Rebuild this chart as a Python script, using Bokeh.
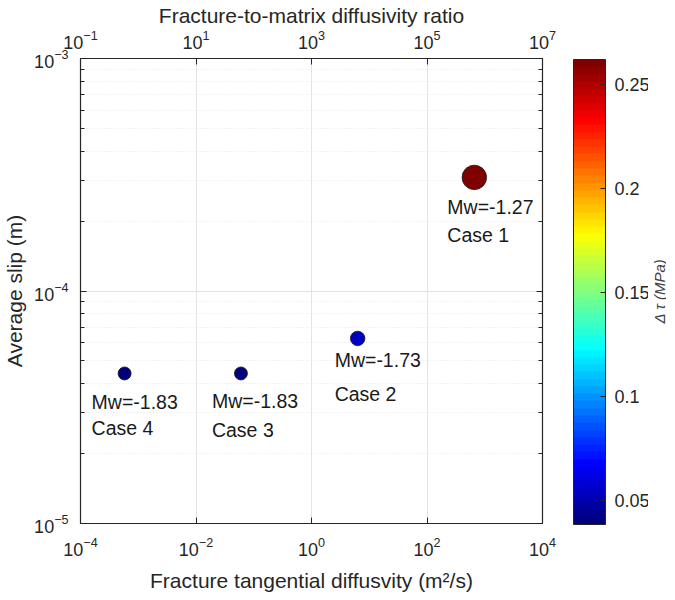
import numpy as np
from bokeh.plotting import figure
from bokeh.layouts import row
from bokeh.models import (LogAxis, Range1d, LogScale, FixedTicker, ColumnDataSource,
                          LinearColorMapper, ColorBar)
from bokeh.core.properties import value
from bokeh.embed import file_html
from bokeh.resources import INLINE

# ---------------- data ----------------
cases = ["Case 1", "Case 2", "Case 3", "Case 4"]
mw_labels = ["Mw=-1.27", "Mw=-1.73", "Mw=-1.83", "Mw=-1.83"]
diffusivity = [660.0, 6.3, 0.06, 5.8e-4]          # m^2/s
avg_slip = [3.08e-4, 6.25e-5, 4.42e-5, 4.42e-5]   # m
delta_tau = [0.262, 0.055, 0.0385, 0.0385]        # MPa
marker_size = [24.5, 14.5, 13, 13]

x_ticks = [1e-4, 1e-2, 1e0, 1e2, 1e4]
ratio_ticks = [1e-1, 1e1, 1e3, 1e5, 1e7]
y_ticks = [1e-5, 1e-4, 1e-3]
y_minor = [m * 10.0 ** e for e in (-5, -4) for m in range(2, 10)]
cbar_ticks = [0.05, 0.1, 0.15, 0.2, 0.25]
cbar_low, cbar_high = 0.0385, 0.262
cbar_title = "\u0394 \u03c4 (MPa)"

# label offsets (px) -- style only
mw_dx = [-27, -23, -29, -33]
mw_dy = [30, 22, 28, 29]
case_dy = [58, 56, 57, 55]

# jet colormap (64 levels)
def jet(n):
    out = []
    for t in np.linspace(0, 1, n):
        r = np.clip(1.5 - abs(4 * t - 3), 0, 1)
        g = np.clip(1.5 - abs(4 * t - 2), 0, 1)
        b = np.clip(1.5 - abs(4 * t - 1), 0, 1)
        out.append("#%02x%02x%02x" % (int(r * 255), int(g * 255), int(b * 255)))
    return out

palette = jet(64)
mapper = LinearColorMapper(palette=palette, low=cbar_low, high=cbar_high)

FONT = "Liberation Sans"
TXT = "#262626"

W, H = 648, 602
TOP, BOTTOM = 54, 79
p = figure(width=W, height=H, x_axis_type="log", y_axis_type="log",
           x_range=Range1d(1e-4, 1e4), y_range=Range1d(1e-5, 1e-3),
           output_backend="svg", toolbar_location=None,
           min_border_left=74, min_border_top=TOP,
           min_border_right=106, min_border_bottom=BOTTOM)
p.extra_x_ranges = {"ratio": Range1d(1e-1, 1e7)}
p.extra_x_scales = {"ratio": LogScale()}

p.outline_line_color = "#262626"
p.outline_line_width = 1.2
p.background_fill_color = "white"

def style_axis(ax, label_size="18px"):
    ax.axis_line_color = "#262626"
    ax.major_tick_line_color = "#262626"
    ax.minor_tick_line_color = "#262626"
    ax.major_tick_in = 6
    ax.major_tick_out = 0
    ax.minor_tick_in = 4
    ax.minor_tick_out = 0
    ax.major_label_text_font = FONT
    ax.major_label_text_font_size = label_size
    ax.major_label_text_color = TXT
    ax.axis_label_text_font = FONT
    ax.axis_label_text_font_size = "21px"
    ax.axis_label_text_font_style = "normal"
    ax.axis_label_text_color = TXT

xa = p.xaxis[0]
xa.ticker = FixedTicker(ticks=x_ticks, minor_ticks=[])
xa.axis_label = "Fracture tangential diffusvity (m\u00b2/s)"
style_axis(xa)
xa.major_label_standoff = 13
xa.axis_label_standoff = 10

ya = p.yaxis[0]
ya.ticker = FixedTicker(ticks=y_ticks, minor_ticks=y_minor)
ya.axis_label = "Average slip (m)"
style_axis(ya)
ya.major_label_standoff = 12

top = LogAxis(x_range_name="ratio", axis_label="Fracture-to-matrix diffusivity ratio",
              ticker=FixedTicker(ticks=ratio_ticks, minor_ticks=[]))
style_axis(top)
top.major_label_standoff = 10
top.axis_label_standoff = 0
p.add_layout(top, "above")

# right axis: ticks only
right = LogAxis(ticker=FixedTicker(ticks=y_ticks, minor_ticks=y_minor))
style_axis(right, label_size="6px")
right.major_label_text_alpha = 0
right.major_label_standoff = 0
p.add_layout(right, "right")

p.xgrid.ticker = FixedTicker(ticks=x_ticks)
p.xgrid.grid_line_color = "#e3e3e3"
p.ygrid.ticker = FixedTicker(ticks=y_ticks, minor_ticks=y_minor)
p.ygrid.grid_line_color = "#e3e3e3"
p.ygrid.minor_grid_line_color = "#e6e6e6"
p.ygrid.minor_grid_line_dash = "1 2"

src = ColumnDataSource(dict(x=diffusivity, y=avg_slip, dt=delta_tau, size=marker_size,
                            case=cases, mw=mw_labels, mw_dx=mw_dx, mw_dy=mw_dy, case_dy=case_dy))

p.scatter("x", "y", size="size", source=src,
          fill_color={"field": "dt", "transform": mapper},
          line_color="#1a1a1a", line_width=0.8)

p.text("x", "y", text="mw", source=src, x_offset="mw_dx", y_offset="mw_dy",
       text_font=value(FONT), text_font_size="19.5px", text_color="#1a1a1a",
       text_align="left", text_baseline="middle")
p.text("x", "y", text="case", source=src, x_offset="mw_dx", y_offset="case_dy",
       text_font=value(FONT), text_font_size="19.5px", text_color="#1a1a1a",
       text_align="left", text_baseline="middle")

# colour bar placed just right of the frame (frame-relative screen position)
cb = ColorBar(color_mapper=mapper, ticker=FixedTicker(ticks=cbar_ticks),
              width=32, height=465, padding=0, margin=0, location=(493, -1),
              bar_line_color="#262626", major_tick_line_color="#262626",
              major_tick_in=5, major_tick_out=0, minor_tick_line_color=None,
              major_label_text_font=FONT, major_label_text_font_size="18px",
              major_label_text_color=TXT, label_standoff=9,
              background_fill_color=None, border_line_color=None)
p.add_layout(cb, "center")

# narrow strip carrying the rotated colour-bar title
t = figure(width=18, height=H, x_range=Range1d(0, 1), y_range=Range1d(cbar_low, cbar_high),
           output_backend="svg", toolbar_location=None,
           x_axis_location=None, y_axis_location=None,
           min_border_left=0, min_border_right=0, min_border_top=TOP, min_border_bottom=BOTTOM)
t.outline_line_color = None
t.xgrid.visible = False
t.ygrid.visible = False
t.text(x=[0.6], y=[(cbar_low + cbar_high) / 2], text=[cbar_title], angle=np.pi / 2,
       text_align="center", text_baseline="middle", text_font=value(FONT),
       text_font_size="15px", text_font_style="italic", text_color="#404040")

layout = row(p, t)
open("out.html", "w").write(file_html(layout, INLINE))
